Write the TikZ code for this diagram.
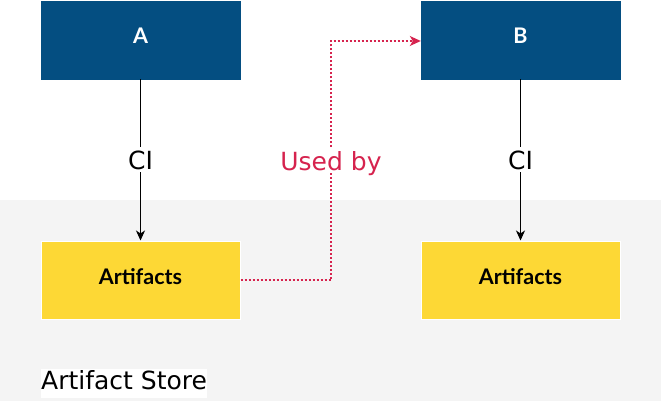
\documentclass[tikz,border=0pt]{standalone}
\usepackage{fontspec}
\setmainfont{DejaVu Sans}
\newfontfamily\latofont{Lato}
\usetikzlibrary{arrows.meta}
\definecolor{boxblue}{HTML}{044E81}
\definecolor{boxyellow}{HTML}{FDD835}
\definecolor{storegrey}{HTML}{F4F4F4}
\definecolor{usedred}{HTML}{D6234E}
\tikzset{
  bluebox/.style={fill=boxblue, draw=boxblue, inner sep=0pt, minimum width=199pt, minimum height=78pt,
    text=white, font=\latofont\bfseries\fontsize{21.5}{21.5}\selectfont, text height=15pt, text depth=7pt},
  yellowbox/.style={fill=boxyellow, draw=white, line width=1pt, inner sep=0pt, minimum width=199pt, minimum height=78pt,
    text=black, font=\latofont\bfseries\fontsize{21.5}{21.5}\selectfont, text height=15pt, text depth=7pt},
  cilabel/.style={fill=white, inner sep=1pt, font=\fontsize{25}{25}\selectfont, text=black, text height=21pt, text depth=2pt},
  usedlabel/.style={fill=white, inner sep=1pt, font=\fontsize{25}{25}\selectfont, text=usedred, text height=21pt, text depth=2pt},
  ciarrow/.style={draw=black, line width=1pt, -{Stealth[length=10pt,width=9pt,inset=3pt]}},
  usedarrow/.style={draw=usedred, line width=1.4pt, dash pattern=on 2pt off 2pt, -{Stealth[length=11pt,width=10pt,inset=3pt]}},
}
\begin{document}
\begin{tikzpicture}[x=1pt,y=-1pt]
\useasboundingbox (0,0) rectangle (661,401);
\fill[storegrey] (0,200) rectangle (661,401);
\node[bluebox] (A) at (140.5,40) {A};
\node[bluebox] (B) at (520.5,40) {B};
\node[yellowbox] (AA) at (140.5,280) {Artifacts};
\node[yellowbox] (BA) at (520.5,280) {Artifacts};
\node[fill=white, inner xsep=0pt, inner ysep=3pt, anchor=west, font=\fontsize{25}{25}\selectfont, text height=18pt, text depth=5pt] (store) at (41,383) {Artifact Store};
\draw[ciarrow] (A.south) -- node[cilabel] (ci1) {CI} (AA.north);
\draw[ciarrow] (B.south) -- node[cilabel] (ci2) {CI} (BA.north);
\coordinate (k1) at (331,280);
\coordinate (k2) at (331,41);
\draw[usedarrow] (AA.east) -- (k1) -- node[pos=0.5, usedlabel] (used) {Used by} (k2) -- (B.west |- k2);
\end{tikzpicture}
\end{document}
